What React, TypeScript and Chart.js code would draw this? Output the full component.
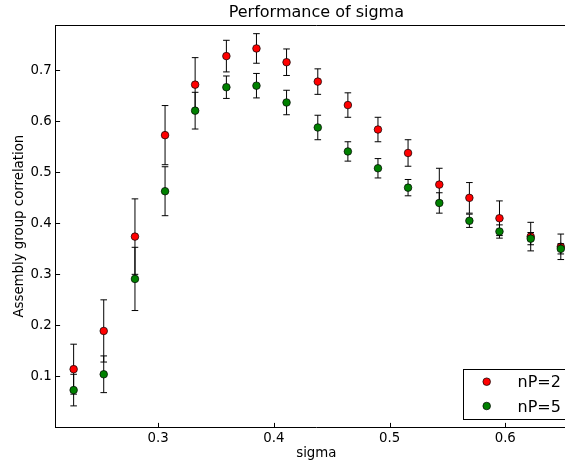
import React, { useEffect, useRef } from "react";
import { Chart, registerables } from "chart.js";

Chart.register(...registerables);

const sigma = [0.227, 0.253, 0.280, 0.306, 0.332, 0.359, 0.385, 0.411, 0.438, 0.464, 0.490, 0.516, 0.543, 0.569, 0.595, 0.622, 0.648];
const nP2 = [0.114, 0.189, 0.374, 0.573, 0.672, 0.728, 0.743, 0.716, 0.678, 0.632, 0.584, 0.538, 0.476, 0.450, 0.410, 0.374, 0.354];
const err2 = [0.049, 0.061, 0.074, 0.058, 0.053, 0.031, 0.029, 0.026, 0.025, 0.024, 0.024, 0.026, 0.032, 0.030, 0.034, 0.028, 0.025];
const nP5 = [0.073, 0.104, 0.291, 0.463, 0.621, 0.667, 0.670, 0.637, 0.588, 0.541, 0.508, 0.470, 0.440, 0.405, 0.384, 0.370, 0.350];
const err5 = [0.031, 0.036, 0.062, 0.048, 0.036, 0.022, 0.024, 0.024, 0.024, 0.019, 0.019, 0.016, 0.020, 0.013, 0.013, 0.012, 0.010];
const xTicks = [0.3, 0.4, 0.5, 0.6];
const yTicks = [0.1, 0.2, 0.3, 0.4, 0.5, 0.6, 0.7];
const seriesLabels = ["nP=2", "nP=5"];
const seriesColors = ["#ff0000", "#008000"];
const titleText = "Performance of sigma";
const xLabel = "sigma";
const yLabel = "Assembly group correlation";

const FONT = "'DejaVu Sans', sans-serif";
const MR = 3.8;

export default function App() {
  const ref = useRef<HTMLCanvasElement>(null);

  useEffect(() => {
    const canvas = ref.current;
    if (!canvas) return;

    const errPlugin = {
      id: "errbars",
      beforeDatasetDraw(chart: any, args: any) {
        const ds: any = chart.data.datasets[args.index];
        const errs: number[] = ds.errors;
        const ctx = chart.ctx;
        const xs = chart.scales.x;
        const ys = chart.scales.y;
        ctx.save();
        ctx.strokeStyle = "#000";
        ctx.lineWidth = 1;
        ds.data.forEach((p: any, i: number) => {
          const x = xs.getPixelForValue(p.x);
          const yt = ys.getPixelForValue(p.y + errs[i]);
          const yb = ys.getPixelForValue(p.y - errs[i]);
          ctx.beginPath();
          ctx.moveTo(x, yb);
          ctx.lineTo(x, yt);
          ctx.moveTo(x - 3.3, yb);
          ctx.lineTo(x + 3.3, yb);
          ctx.moveTo(x - 3.3, yt);
          ctx.lineTo(x + 3.3, yt);
          ctx.stroke();
        });
        ctx.restore();
      },
    };

    const framePlugin = {
      id: "frame",
      afterDraw(chart: any) {
        const ctx = chart.ctx;
        const ca = chart.chartArea;
        const xs = chart.scales.x;
        const ys = chart.scales.y;
        ctx.save();
        ctx.strokeStyle = "#000";
        ctx.lineWidth = 1;
        // top spine
        ctx.beginPath();
        ctx.moveTo(ca.left, Math.round(ca.top) + 0.5);
        ctx.lineTo(ca.right, Math.round(ca.top) + 0.5);
        ctx.stroke();
        // inward ticks
        ctx.beginPath();
        xTicks.forEach((v) => {
          const x = Math.round(xs.getPixelForValue(v)) + 0.5;
          ctx.moveTo(x, ca.bottom);
          ctx.lineTo(x, ca.bottom - 4.4);
        });
        yTicks.forEach((v) => {
          const y = Math.round(ys.getPixelForValue(v)) + 0.5;
          ctx.moveTo(ca.left, y);
          ctx.lineTo(ca.left + 4.4, y);
        });
        ctx.stroke();

        // title
        ctx.fillStyle = "#000";
        ctx.font = `16px ${FONT}`;
        ctx.textAlign = "center";
        ctx.textBaseline = "alphabetic";
        ctx.fillText(titleText, (ca.left + ca.right) / 2, 16.7);

        // x label
        ctx.font = `13.33px ${FONT}`;
        ctx.fillText(xLabel, (ca.left + ca.right) / 2, 456.5);

        // y label
        ctx.save();
        ctx.translate(22.5, (ca.top + ca.bottom) / 2);
        ctx.rotate(-Math.PI / 2);
        ctx.textAlign = "center";
        ctx.fillText(yLabel, 0, 0);
        ctx.restore();

        // legend
        const lx = 463.5, ly = 369.5, lw = 569 - 463.5, lh = 50;
        ctx.fillStyle = "#fff";
        ctx.fillRect(lx, ly, lw, lh);
        ctx.strokeRect(lx, ly, lw, lh);
        const rows = [381.7, 406];
        const bases = [387.3, 411.6];
        seriesLabels.forEach((lab, i) => {
          ctx.beginPath();
          ctx.arc(486.7, rows[i], MR, 0, Math.PI * 2);
          ctx.fillStyle = seriesColors[i];
          ctx.fill();
          ctx.lineWidth = 0.7;
          ctx.strokeStyle = "#000";
          ctx.stroke();
          ctx.fillStyle = "#000";
          ctx.font = `16px ${FONT}`;
          ctx.textAlign = "left";
          ctx.textBaseline = "alphabetic";
          ctx.fillText(lab, 517.5, bases[i]);
        });
        ctx.restore();
      },
    };

    const chart = new Chart(canvas, {
      type: "scatter",
      data: {
        datasets: [
          {
            label: seriesLabels[0],
            data: sigma.map((x, i) => ({ x, y: nP2[i] })),
            errors: err2,
            backgroundColor: seriesColors[0],
            borderColor: "#000",
            borderWidth: 0.7,
            pointRadius: MR,
            order: 2,
          } as any,
          {
            label: seriesLabels[1],
            data: sigma.map((x, i) => ({ x, y: nP5[i] })),
            errors: err5,
            backgroundColor: seriesColors[1],
            borderColor: "#000",
            borderWidth: 0.7,
            pointRadius: MR,
            order: 1,
          } as any,
        ],
      },
      options: {
        animation: false,
        responsive: false,
        maintainAspectRatio: false,
        layout: { padding: { left: 0, right: 13, top: 25, bottom: 0 } },
        plugins: {
          legend: { display: false },
          title: { display: false },
          tooltip: { enabled: false },
        },
        scales: {
          x: {
            type: "linear",
            min: 0.2115,
            max: 0.662,
            grid: { display: false, drawTicks: false },
            border: { display: true, color: "#000", width: 1 },
            ticks: {
              padding: 3,
              color: "#000",
              font: { family: FONT, size: 13.33 },
              callback: (v: any) => Number(v).toFixed(1),
            },
            afterBuildTicks: (s: any) => {
              s.ticks = xTicks.map((v) => ({ value: v }));
            },
            afterFit: (s: any) => {
              s.height = 41.7;
            },
          },
          y: {
            type: "linear",
            min: 0,
            max: 0.789,
            grid: { display: false, drawTicks: false },
            border: { display: true, color: "#000", width: 1 },
            ticks: {
              padding: 4,
              color: "#000",
              font: { family: FONT, size: 13.33 },
              callback: (v: any) => Number(v).toFixed(1),
            },
            afterBuildTicks: (s: any) => {
              s.ticks = yTicks.map((v) => ({ value: v }));
            },
            afterFit: (s: any) => {
              s.width = 55.7;
            },
          },
        },
      },
      plugins: [errPlugin, framePlugin],
    } as any);

    return () => {
      chart.destroy();
    };
  }, []);

  return (
    <div style={{ position: "fixed", left: 0, top: 0, width: 590, height: 469, background: "#fff" }}>
      <canvas ref={ref} width={590} height={469} style={{ width: 590, height: 469, display: "block" }} />
    </div>
  );
}
